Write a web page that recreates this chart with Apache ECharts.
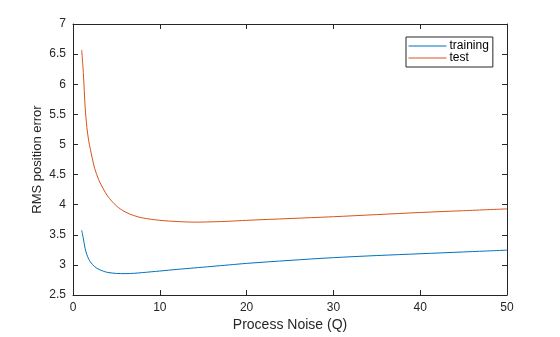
<!DOCTYPE html>
<html><head><meta charset="utf-8">
<script src="https://cdn.jsdelivr.net/npm/echarts@6/dist/echarts.min.js"></script>
<style>html,body{margin:0;padding:0;background:#fff}#c{width:560px;height:337px}</style>
</head><body><div id="c"></div>
<script>
const xValues = [1, 1.2, 1.4, 1.6, 1.8, 2, 2.5, 3, 3.5, 4, 5, 6, 7, 8, 10, 12, 14, 16, 18, 20, 25, 30, 35, 40, 45, 50];
const trainingValues = [3.575, 3.43, 3.27, 3.17, 3.10, 3.05, 2.97, 2.925, 2.895, 2.875, 2.858, 2.855, 2.86, 2.872, 2.898, 2.925, 2.95, 2.975, 3.00, 3.025, 3.075, 3.12, 3.155, 3.185, 3.215, 3.245];
const testValues = [6.57, 6.17, 5.62, 5.28, 5.07, 4.92, 4.60, 4.40, 4.26, 4.14, 3.98, 3.88, 3.82, 3.78, 3.74, 3.72, 3.71, 3.715, 3.725, 3.74, 3.77, 3.80, 3.835, 3.87, 3.90, 3.93];
const seriesNames = ['training', 'test'];
const xTicks = [0, 10, 20, 30, 40, 50];
const yTicks = [2.5, 3, 3.5, 4, 4.5, 5, 5.5, 6, 6.5, 7];

const txt = '#262626';
const font = 'Liberation Sans, Arial, sans-serif';
function axLine(){ return {show: true, onZero: false, lineStyle: {color: txt, width: 1}}; }
function axTick(){ return {show: true, inside: true, length: 5, lineStyle: {color: txt, width: 1}}; }
function pairs(vals){ return xValues.map((x,i)=>[x, vals[i]]); }

const chart = echarts.init(document.getElementById('c'), null, {renderer: 'canvas'});
chart.setOption({
  animation: false,
  backgroundColor: '#fff',
  grid: {left: 73, right: 53, top: 24, bottom: 38, containLabel: false},
  legend: {
    data: seriesNames,
    orient: 'vertical',
    left: 406, top: 37,
    itemWidth: 38, itemHeight: 14, itemGap: 0,
    padding: [3, 4, 3, 2],
    borderColor: txt, borderWidth: 1,
    backgroundColor: '#fff',
    itemStyle: {opacity: 0},
    lineStyle: {width: 1},
    textStyle: {color: '#000', fontSize: 12, fontFamily: font, padding: [0, 0, 0, -2]}
  },
  xAxis: [{
    type: 'value', min: xTicks[0], max: xTicks[xTicks.length-1], interval: 10,
    name: 'Process Noise (Q)', nameLocation: 'middle', nameGap: 23, nameMoveOverlap: false,
    nameTextStyle: {color: txt, fontSize: 14, fontFamily: font},
    axisLine: axLine(), axisTick: axTick(), splitLine: {show: false},
    axisLabel: {color: txt, fontSize: 12, fontFamily: font, margin: 7}
  }, {
    type: 'value', position: 'top', min: 0, max: 50, interval: 10,
    axisLine: axLine(), axisTick: axTick(), axisLabel: {show: false}, splitLine: {show: false}
  }],
  yAxis: [{
    type: 'value', min: yTicks[0], max: yTicks[yTicks.length-1], interval: 0.5,
    name: 'RMS position error', nameLocation: 'middle', nameGap: 29, nameMoveOverlap: false,
    nameTextStyle: {color: txt, fontSize: 13, fontFamily: font},
    axisLine: axLine(), axisTick: axTick(), splitLine: {show: false},
    axisLabel: {color: txt, fontSize: 12, fontFamily: font, margin: 7}
  }, {
    type: 'value', position: 'right', min: 2.5, max: 7, interval: 0.5,
    axisLine: axLine(), axisTick: axTick(), axisLabel: {show: false}, splitLine: {show: false}
  }],
  series: [{
    name: seriesNames[0], type: 'line', data: pairs(trainingValues), smooth: 0.3,
    symbol: 'none', showSymbol: false, color: '#0072BD', lineStyle: {width: 1, color: '#0072BD'}
  }, {
    name: seriesNames[1], type: 'line', data: pairs(testValues), smooth: 0.3,
    symbol: 'none', showSymbol: false, color: '#D95319', lineStyle: {width: 1, color: '#D95319'}
  }]
});
</script></body></html>
